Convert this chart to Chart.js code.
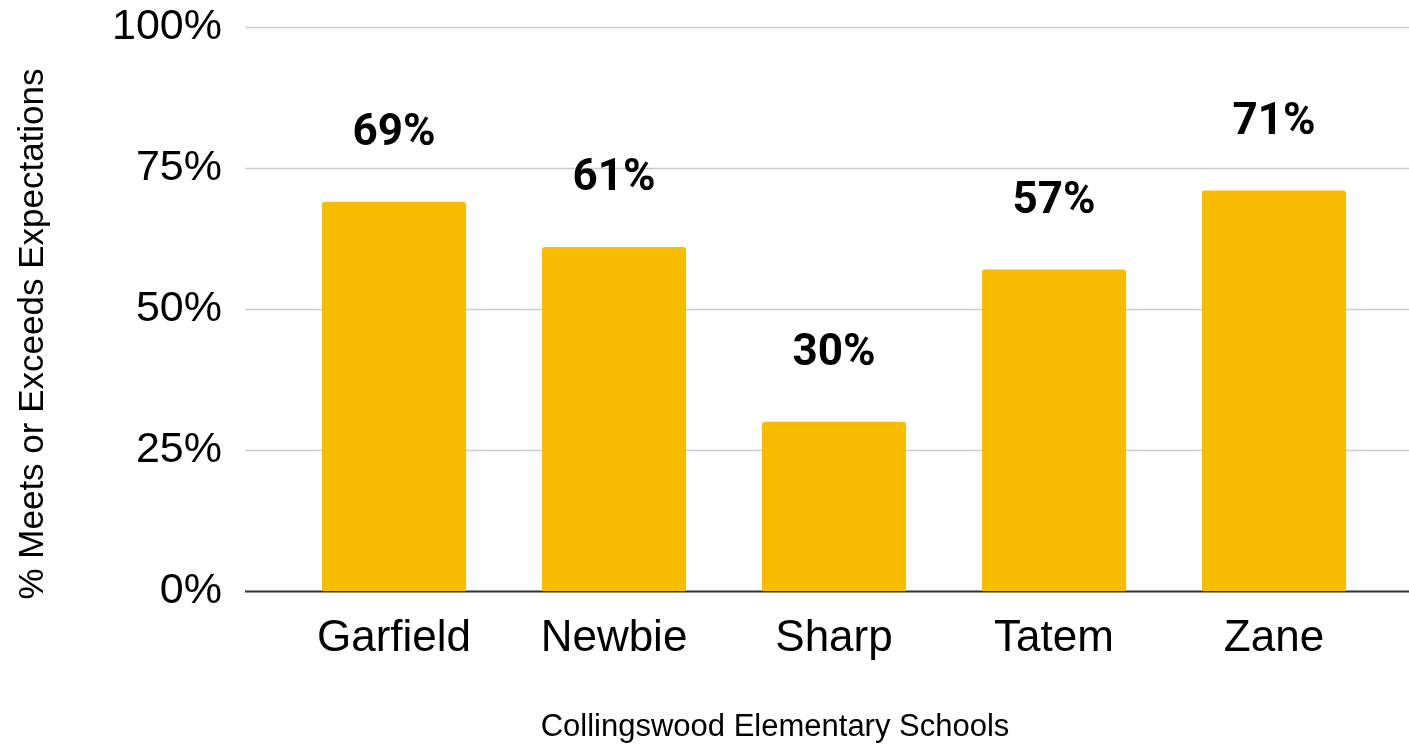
<!DOCTYPE html>
<html>
<head>
<meta charset="utf-8">
<script src="https://cdn.jsdelivr.net/npm/chart.js@4"></script>
<style>
  html, body { margin: 0; padding: 0; background: #fff; }
  #wrap { width: 1409px; height: 751px; }
</style>
</head>
<body>
<div id="wrap"><canvas id="school-chart" width="1409" height="751"></canvas></div>
<script>
// 数据
const schools = ['Garfield', 'Newbie', 'Sharp', 'Tatem', 'Zane'];
const pctMeets = [69, 61, 30, 57, 71];
const yTicks = [0, 25, 50, 75, 100];
const xTitle = 'Collingswood Elementary Schools';
const yTitle = '% Meets or Exceeds Expectations';

const SANS = "'Liberation Sans', Arial, sans-serif";

// 横向网格线 + 底部轴线 (比绘图区更宽)
const gridPlugin = {
    id: 'wideGrid',
    beforeDatasetsDraw(chart) {
        const ctx = chart.ctx;
        const y = chart.scales.y;
        ctx.save();
        yTicks.forEach(v => {
            const py = Math.round(y.getPixelForValue(v)) + 0.5;
            ctx.beginPath();
            ctx.moveTo(245, py);
            ctx.lineTo(chart.width, py);
            if (v === 0) {
                ctx.strokeStyle = '#333333';
                ctx.lineWidth = 2;
            } else {
                ctx.strokeStyle = '#cccccc';
                ctx.lineWidth = 1.5;
            }
            ctx.stroke();
        });
        ctx.restore();
    },
    afterDatasetsDraw(chart) {
        const ctx = chart.ctx;
        const meta = chart.getDatasetMeta(0);
        ctx.save();
        // 数值标签
        ctx.fillStyle = '#000';
        ctx.font = "bold 44px Roboto, 'Liberation Sans', sans-serif";
        ctx.textAlign = 'center';
        ctx.textBaseline = 'alphabetic';
        meta.data.forEach((bar, i) => {
            ctx.fillText(pctMeets[i] + '%', bar.x, bar.y - 57);
        });
        // 轴标题
        ctx.fillStyle = '#000';
        ctx.font = '31px ' + SANS;
        ctx.textBaseline = 'middle';
        ctx.fillText(xTitle, 775, 727);
        ctx.translate(33, 334);
        ctx.rotate(-Math.PI / 2);
        ctx.font = '35px ' + SANS;
        ctx.fillText(yTitle, 0, 0);
        ctx.restore();
    }
};

const chartEl = document.getElementById('school-chart');
if (chartEl) {
    new Chart(chartEl.getContext('2d'), {
        type: 'bar',
        data: {
            labels: schools,
            datasets: [{
                label: yTitle,
                data: pctMeets,
                backgroundColor: '#f8bc02',
                borderRadius: 3,
                barPercentage: 0.655,
                categoryPercentage: 1
            }]
        },
        options: {
            responsive: false,
            animation: false,
            layout: { padding: { top: 27, right: 25, left: 0, bottom: 0 } },
            plugins: {
                legend: { display: false },
                tooltip: { enabled: false }
            },
            scales: {
                x: {
                    grid: { display: false, drawTicks: false },
                    border: { display: false },
                    ticks: {
                        color: '#000',
                        font: { family: SANS, size: 44 },
                        padding: 21
                    },
                    afterFit(scale) { scale.height = 160; }
                },
                y: {
                    min: 0,
                    max: 100,
                    grid: { display: false, drawTicks: false },
                    border: { display: false },
                    ticks: {
                        stepSize: 25,
                        color: '#000',
                        font: { family: SANS, size: 43 },
                        padding: 62,
                        callback: v => v + '%'
                    },
                    afterFit(scale) {
                        scale.width = 284;
                        // 不让刻度padding推挤绘图区
                        scale.paddingTop = 0;
                        scale.paddingBottom = 0;
                    }
                }
            }
        },
        plugins: [gridPlugin]
    });
}
</script>
</body>
</html>
